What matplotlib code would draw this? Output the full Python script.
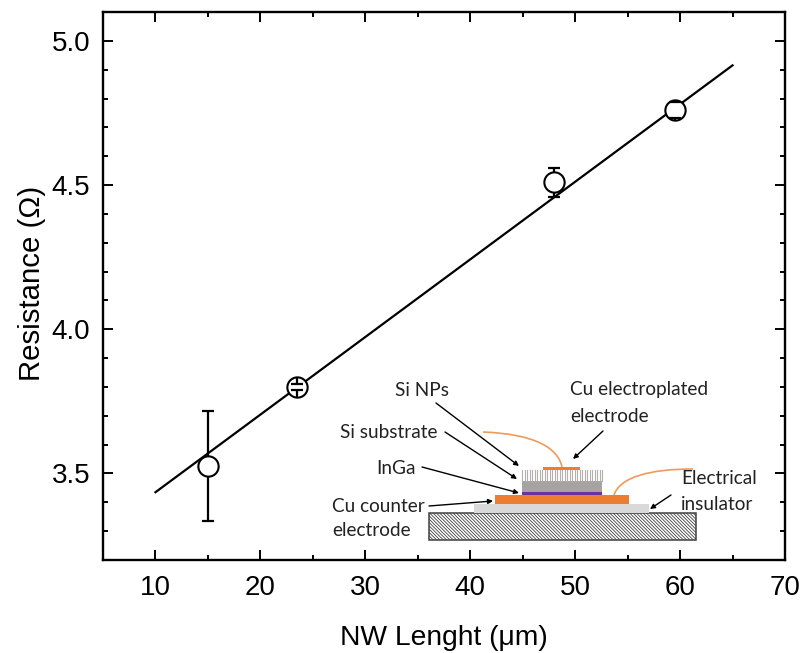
import matplotlib
matplotlib.use("Agg")
import matplotlib.pyplot as plt
from matplotlib.patches import Rectangle, PathPatch, FancyArrowPatch
from matplotlib.path import Path
from matplotlib.transforms import Affine2D
from matplotlib.ticker import MultipleLocator
import matplotlib as mpl

length = [15, 23.5, 48, 59.5]
resistance = [3.525, 3.80, 4.51, 4.76]
errors = [0.19, 0.01, 0.05, 0.029]
fit_x = [10, 65]
fit_y = [3.435, 4.915]
marker_radius = 0.036  # marker radius in data units: stems start at the marker edge

W, H = 802, 653
plt.rcParams['font.family'] = ['Liberation Sans', 'DejaVu Sans']
mpl.rcParams['hatch.linewidth'] = 0.6
fig = plt.figure(figsize=(W / 100, H / 100), dpi=100)
ax = fig.add_axes([103 / W, 1 - 560 / H, (785 - 103) / W, (560 - 12) / H])
ax.set_xlim(5, 70)
ax.set_ylim(3.2, 5.1)
ax.plot(fit_x, fit_y, color='black', lw=1.6, zorder=2)
ax.plot(length, resistance, 'o', ms=14.6, mfc='white', mec='black', mew=1.5, zorder=3)
ax.errorbar(length, resistance, yerr=errors, fmt='none', ecolor='black',
            elinewidth=0, capsize=4.3, capthick=1.6, zorder=4)
for xv, yv, ev in zip(length, resistance, errors):
    ax.plot([xv, xv], [yv + ev, yv + marker_radius], color='black', lw=1.6, zorder=4,
            solid_capstyle='butt')
    ax.plot([xv, xv], [yv - ev, yv - marker_radius], color='black', lw=1.6, zorder=4,
            solid_capstyle='butt')

for s in ax.spines.values():
    s.set_linewidth(1.7)
ax.xaxis.set_minor_locator(MultipleLocator(5))
ax.yaxis.set_minor_locator(MultipleLocator(0.1))
ax.set_xticks([10, 20, 30, 40, 50, 60, 70])
ax.set_yticks([3.5, 4.0, 4.5, 5.0])
ax.tick_params(which='major', direction='in', length=7.3, width=1.4, top=True,
               right=True, labelsize=20)
ax.tick_params(axis='x', which='major', pad=11)
ax.tick_params(axis='y', which='major', pad=9)
ax.tick_params(which='minor', direction='in', length=3.6, width=1.4, top=True, right=True)
ax.set_xlabel('NW Lenght (\u03bcm)', fontsize=20.3)
ax.xaxis.set_label_coords(0.5, -0.119)
ax.set_ylabel('Resistance (\u03a9)', fontsize=21.2)
ax.yaxis.set_label_coords(-0.083, 0.505)

# inset device schematic, laid out in image pixels
px = Affine2D().scale(1, -1).translate(0, H)
def box(x0, y0, x1, y1, **kw):
    fig.add_artist(Rectangle((x0, y0), x1 - x0, y1 - y0, transform=px, **kw))
box(429, 513, 696, 540, facecolor='white', edgecolor='#404040', lw=1.1, hatch='\\\\\\\\\\\\\\\\\\\\')
box(474, 504, 649, 513, facecolor='#d9d9d9', edgecolor='none')
box(495, 495, 629, 504, facecolor='#ed7d31', edgecolor='none')
box(522, 492, 602, 495, facecolor='#7030a0', edgecolor='none')
box(522, 481, 602, 492, facecolor='#a8a3a3', edgecolor='none')
box(543, 467, 580, 469.5, facecolor='#ed7d31', edgecolor='none')
for i in range(33):
    xp = 522 + i * 80 / 32
    fig.add_artist(plt.Line2D([xp, xp], [469.5, 481], transform=px, color='#b5b0b0', lw=0.8))
for verts in ([(483, 432), (535, 434), (558, 448), (562, 467)],
              [(693, 469), (650, 469), (620, 477), (614, 495)]):
    fig.add_artist(PathPatch(Path(verts, [Path.MOVETO, Path.CURVE4, Path.CURVE4, Path.CURVE4]),
                             transform=px, fill=False, edgecolor='#ee9a5c', lw=1.2))
for a, b in (((436, 403), (519, 466)), ((445, 432), (517, 479)), ((422, 467), (519, 493)),
             ((429, 506), (493, 501)), ((603, 431), (573, 459)), ((671, 495), (650, 509))):
    fig.add_artist(FancyArrowPatch(a, b, transform=px, arrowstyle='-|>', mutation_scale=7,
                                   color='black', lw=1.0, shrinkA=0, shrinkB=0))
labels = [(395, 391, 'Si NPs'), (570, 390, 'Cu electroplated'), (570, 416, 'electrode'),
          (340, 433, 'Si substrate'), (376, 469, 'InGa'), (681, 479, 'Electrical'),
          (681, 505, 'insulator'), (332, 506, 'Cu counter'), (332, 531, 'electrode')]
for x, y, t in labels:
    fig.text(x, y, t, transform=px, family='Lato', fontsize=13.7, color='#222222',
             ha='left', va='center')
fig.savefig('out.png', dpi=100)
